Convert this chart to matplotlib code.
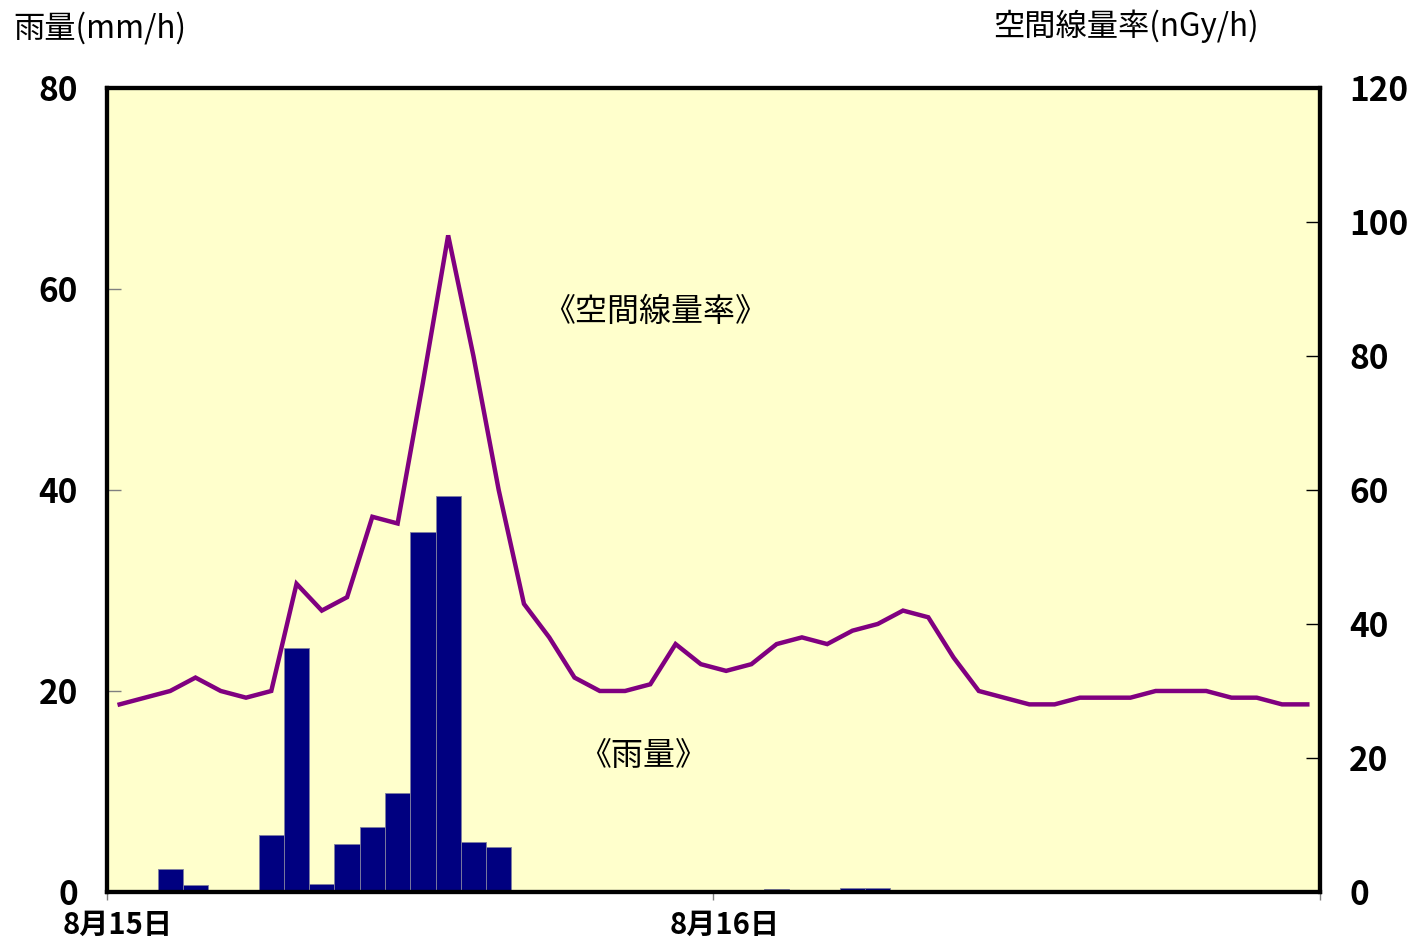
import numpy as np
import matplotlib
matplotlib.use("Agg")
import matplotlib.pyplot as plt
from matplotlib.transforms import ScaledTranslation

plt.rcParams['font.family'] = ['Noto Sans CJK JP', 'DejaVu Sans']

# hourly rain (mm/h), 8/15 0:00 .. 8/16 23:00
rain = [0, 0, 2.3, 0.7, 0, 0, 5.7, 24.3, 0.8, 4.8, 6.5, 9.8,
        35.8, 39.4, 5.0, 4.5, 0, 0.1, 0, 0, 0, 0, 0.1, 0,
        0.1, 0, 0.3, 0.2, 0, 0.4, 0.4, 0, 0.1, 0, 0, 0,
        0, 0, 0, 0, 0, 0, 0, 0.05, 0, 0, 0, 0]

# air dose rate (nGy/h)
dose = [28, 29, 30, 32, 30, 29, 30, 46, 42, 44, 56, 55,
        76, 98, 80, 60, 43, 38, 32, 30, 30, 31, 37, 34,
        33, 34, 37, 38, 37, 39, 40, 42, 41, 35, 30, 29,
        28, 28, 29, 29, 29, 30, 30, 30, 29, 29, 28, 28]

hours = np.arange(len(rain))

fig = plt.figure(figsize=(14.12, 9.47), dpi=100)
ax = fig.add_axes([0.0758, 0.0581, 0.859, 0.849])
ax.set_facecolor('#FFFFCC')

ax.bar(hours, rain, width=1.0, align='edge', color='#000080',
       edgecolor='#8080a0', linewidth=0.6, zorder=2)
ax.set_xlim(0, 48)
ax.set_ylim(0, 80)
ax.set_yticks([0, 20, 40, 60, 80])
ax.set_xticks([0, 24, 48])
ax.set_xticklabels(['8月15日', '8月16日', ''])

ax2 = ax.twinx()
ax2.plot(hours + 0.5, dose, color='#800080', linewidth=3.2,
         solid_joinstyle='miter', zorder=3)
ax2.set_ylim(0, 120)
ax2.set_yticks([0, 20, 40, 60, 80, 100, 120])

for a in (ax, ax2):
    for s in a.spines.values():
        s.set_linewidth(3)
        s.set_color('black')

ax.tick_params(axis='y', direction='in', length=10, width=1, color='gray',
               labelsize=24, pad=21)
ax.tick_params(axis='x', direction='out', length=6, width=1, color='gray',
               labelsize=21, pad=7)
ax2.tick_params(axis='y', direction='in', length=10, width=1, color='black',
                labelsize=24, pad=21)
shift = ScaledTranslation(11 / 100, 0, fig.dpi_scale_trans)
for lab in ax.get_xticklabels():
    lab.set_transform(lab.get_transform() + shift)
for lab in ax.get_yticklabels() + ax2.get_yticklabels() + ax.get_xticklabels():
    lab.set_fontweight('bold')

fig.text(13 / 1412, 1 - 28 / 947, '雨量(mm/h)', fontsize=22.5,
         ha='left', va='center')
fig.text(993 / 1412, 1 - 26 / 947, '空間線量率(nGy/h)', fontsize=22.5,
         ha='left', va='center')

ax.text(21.7, 57.7, '《空間線量率》', fontsize=23, ha='center', va='center')
ax.text(21.2, 13.5, '《雨量》', fontsize=23, ha='center', va='center')

fig.savefig('out.png', dpi=100)
